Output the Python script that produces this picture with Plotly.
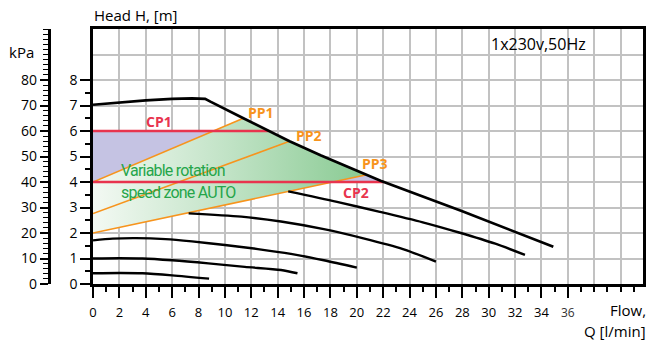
import numpy as np
import plotly.graph_objects as go

# ---- pump curves: flow Q [l/min] vs head H [m] ----
top_q = [0, 2, 4, 6, 7.5, 8.5, 8.9, 11.4, 13.1, 14.9, 17.25, 21.8, 28.0, 34.9]
top_h = [7.03, 7.12, 7.2, 7.26, 7.28, 7.26, 7.15, 6.5, 6.05, 5.6, 5.05, 4.05, 2.85, 1.46]

c2_q = [14.8, 18.5, 21.75, 25.0, 27.75, 30.5, 32.75]
c2_h = [3.63, 3.22, 2.83, 2.42, 2.02, 1.58, 1.14]

c3_q = [7.25, 11.25, 14.25, 17.5, 20.5, 23.5, 26.0]
c3_h = [2.77, 2.64, 2.45, 2.15, 1.79, 1.37, 0.88]

c4_q = [0, 1.5, 3.25, 5.5, 7.5, 10.0, 12.5, 15.0, 17.5, 20.0]
c4_h = [1.71, 1.78, 1.8, 1.76, 1.67, 1.53, 1.37, 1.18, 0.93, 0.64]

c5_q = [0, 2, 3.75, 6.0, 8.75, 11.5, 14.25, 15.5]
c5_h = [1.0, 1.01, 1.0, 0.93, 0.81, 0.67, 0.55, 0.42]

c6_q = [0, 2, 3.75, 6.0, 8.8]
c6_h = [0.42, 0.43, 0.42, 0.34, 0.21]

# constant pressure modes (head, m)
cp_names = ["CP1", "CP2"]
cp_head = [6.0, 4.0]

# proportional pressure modes: head at zero flow, flow where the line meets the max curve
pp_names = ["PP1", "PP2", "PP3"]
pp_start_h = [4.0, 2.76, 2.0]
pp_end_q = [11.4, 14.9, 20.75]

# axis ticks
x_ticks = list(range(0, 41, 2))
x_labels = [str(v) if v <= 34 else ("<span style='font-size:12px;color:#333'>36</span>" if v == 36 else "") for v in x_ticks]
h_ticks = list(range(0, 9))
kpa_ticks = list(range(0, 101, 10))
kpa_labels = [str(v) if v <= 80 else "" for v in kpa_ticks]

RED = "#e8344e"
ORANGE = "#f7941d"
GREEN_TXT = "#25a54a"
PURPLE = "#c5c3e3"
GRID = "#c2c2c2"
FONT = "Open Sans, DejaVu Sans, sans-serif"
NARROW = "Roboto, sans-serif"

tq = np.array(top_q)
th = np.array(top_h)
desc = slice(5, None)  # descending part of the max curve


def q_at_head(h):
    return float(np.interp(h, th[desc][::-1], tq[desc][::-1]))


def h_at_flow(q):
    return float(np.interp(q, tq, th))


fig = go.Figure()

# CP band (between CP2 and CP1, clipped by max curve)
q_hi, q_lo = q_at_head(cp_head[0]), q_at_head(cp_head[1])
inner = [(q, h) for q, h in zip(top_q, top_h) if q_hi < q < q_lo]
band_q = [0, q_hi] + [p[0] for p in inner] + [q_lo, 0, 0]
band_h = [cp_head[0], cp_head[0]] + [p[1] for p in inner] + [cp_head[1], cp_head[1], cp_head[0]]
fig.add_trace(go.Scatter(x=band_q, y=band_h, mode="lines", line=dict(width=0),
                         fill="toself", fillcolor=PURPLE, hoverinfo="skip", showlegend=False))

# variable speed zone between PP3 and PP1
pp_end_h = [h_at_flow(q) for q in pp_end_q]
mid = [(q, h) for q, h in zip(top_q, top_h) if pp_end_q[0] < q < pp_end_q[2]]
zone_q = [0, pp_end_q[2]] + [p[0] for p in mid[::-1]] + [pp_end_q[0], 0, 0]
zone_h = [pp_start_h[2], pp_end_h[2]] + [p[1] for p in mid[::-1]] + [pp_end_h[0], pp_start_h[0], pp_start_h[2]]
fig.add_trace(go.Scatter(x=zone_q, y=zone_h, mode="lines", line=dict(width=0),
                         fill="toself",
                         fillgradient=dict(type="horizontal",
                                           colorscale=[[0, "#f3f9f3"], [0.5, "#bfe2c4"], [1, "#86c990"]],
                                           start=0, stop=21),
                         hoverinfo="skip", showlegend=False))

# PP lines
for h0, q1, h1 in zip(pp_start_h, pp_end_q, pp_end_h):
    fig.add_trace(go.Scatter(x=[0, q1], y=[h0, h1], mode="lines",
                             line=dict(color=ORANGE, width=1.6), hoverinfo="skip", showlegend=False))

# CP lines
for h in cp_head:
    fig.add_trace(go.Scatter(x=[0, q_at_head(h)], y=[h, h], mode="lines",
                             line=dict(color=RED, width=2.4), hoverinfo="skip", showlegend=False))

# speed curves
for qs, hs in [(c2_q, c2_h), (c3_q, c3_h), (c4_q, c4_h), (c5_q, c5_h), (c6_q, c6_h)]:
    fig.add_trace(go.Scatter(x=qs, y=hs, mode="lines",
                             line=dict(color="black", width=2.4, shape="spline", smoothing=0.8),
                             hoverinfo="skip", showlegend=False))
fig.add_trace(go.Scatter(x=top_q, y=top_h, mode="lines",
                         line=dict(color="black", width=2.7), hoverinfo="skip", showlegend=False))

# keeps the kPa axis active
fig.add_trace(go.Scatter(x=[0], y=[0], yaxis="y2", mode="markers", marker=dict(opacity=0),
                         hoverinfo="skip", showlegend=False))

# mode labels
label_pos = {"CP1": (5.0, 6.37), "CP2": (19.95, 3.59),
             "PP1": (12.7, 6.72), "PP2": (16.35, 5.82), "PP3": (21.4, 4.72)}
for name, (lx, ly) in label_pos.items():
    fig.add_annotation(x=lx, y=ly, text=name, showarrow=False,
                       font=dict(family=FONT, size=14, color=RED if name.startswith("CP") else ORANGE,
                                 weight="bold"))

zone_lines = ["Variable rotation", "speed zone AUTO"]
for txt, ly in zip(zone_lines, [4.47, 3.6]):
    fig.add_annotation(x=2.0, y=ly, text="<span style='letter-spacing:-0.8px'>" + txt + "</span>",
                       showarrow=False, xanchor="left", yanchor="middle",
                       font=dict(family=NARROW, size=16, color=GREEN_TXT))

W, H = 646, 342
T, B = 29, 58
ph = H - T - B


def py(pix):
    return (H - B - pix) / ph


def paper_text(txt, x, y, size=14, xanchor="center"):
    fig.add_annotation(x=x, y=py(y), xref="paper", yref="paper", text=txt,
                       xanchor=xanchor, yanchor="middle", showarrow=False,
                       font=dict(family=FONT, size=size, color="black"))


paper_text("Head H, [m]", 133 / W, 15, size=15)
paper_text("kPa", 18 / W, 52, size=15)
paper_text("1x230v,50Hz", 540 / W, 44, size=16)
paper_text("Flow,", 1.008, 310, size=15, xanchor="right")
paper_text("Q [l/min]", 1.008, 331, size=15, xanchor="right")

fig.update_layout(
    width=W, height=H,
    margin=dict(l=0, r=0, t=T, b=B),
    paper_bgcolor="white", plot_bgcolor="white",
    showlegend=False,
    xaxis=dict(domain=[90 / W, 1], range=[0, 41.7],
               tickmode="array", tickvals=x_ticks, ticktext=x_labels,
               ticks="outside", ticklen=11, tickwidth=2, tickcolor="black", ticklabelstandoff=4,
               minor=dict(tickmode="array", tickvals=list(range(0, 42)), ticks="outside",
                          ticklen=5, tickwidth=1.5, tickcolor="black", showgrid=False),
               showgrid=True, gridcolor=GRID, gridwidth=1.6,
               showline=True, linecolor="black", linewidth=2.5, mirror=True,
               zeroline=False, tickfont=dict(family=FONT, size=13, color="black")),
    yaxis=dict(range=[0, 10], tickmode="array", tickvals=h_ticks,
               ticks="outside", ticklen=10, tickwidth=2, tickcolor="black",
               minor=dict(tickmode="array", tickvals=[v / 2 for v in range(0, 17)], ticks="outside",
                          ticklen=5, tickwidth=1.5, tickcolor="black", showgrid=False),
               showgrid=False, showline=True, linecolor="black", linewidth=2.5, mirror=True,
               zeroline=False, tickfont=dict(family=FONT, size=14, color="black")),
    yaxis2=dict(range=[0, 100], overlaying="y", anchor="free", position=45 / W, side="left",
                tickmode="array", tickvals=kpa_ticks, ticktext=kpa_labels,
                ticks="outside", ticklen=8, tickwidth=2, tickcolor="black",
                minor=dict(tickmode="array", tickvals=list(range(0, 101, 2)), ticks="outside",
                           ticklen=5, tickwidth=1.2, tickcolor="black", showgrid=False),
                showgrid=True, gridcolor=GRID, gridwidth=1.6,
                showline=True, linecolor="black", linewidth=2.5,
                zeroline=False, tickfont=dict(family=FONT, size=14, color="black")),
)

fig.write_html("out.html")
